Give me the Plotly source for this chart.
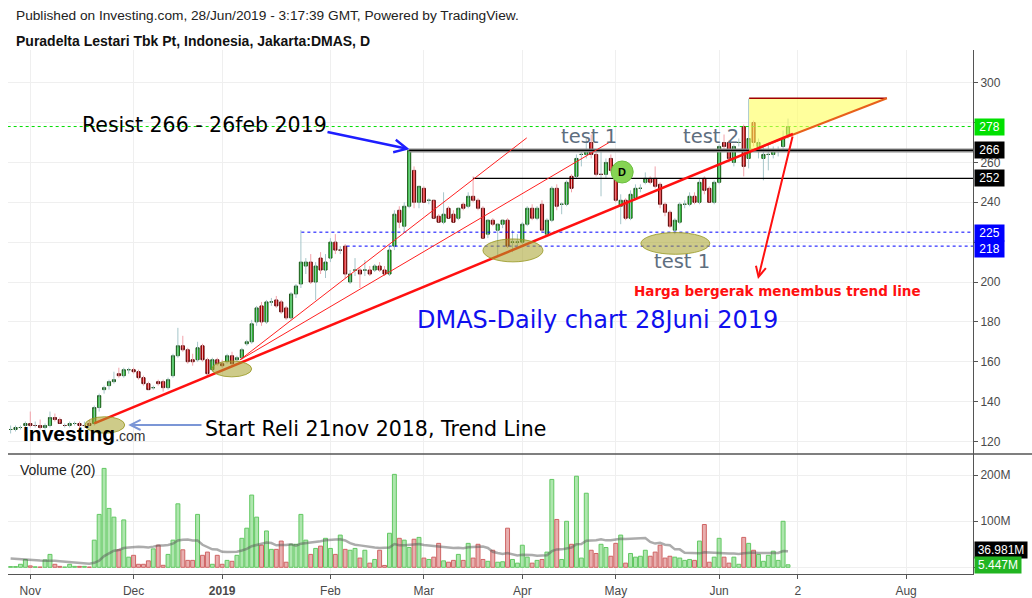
import pandas as pd
import plotly.graph_objects as go

# DMAS daily bars, index 0 = 26 Oct 2018 ... 158 = 28 Jun 2019 (trading days only)
opens = [126, 126, 127, 128, 129, 128, 128, 127, 128, 132, 131, 128, 128, 129, 129, 128, 129, 129, 137, 146,
         148, 150, 154, 153, 156, 156, 155, 152, 149, 147, 150, 150, 147, 153, 163, 168, 166, 161, 161, 168,
         161, 156, 161, 159, 160, 163, 161, 162, 169, 170, 180, 188, 180, 190, 191, 190, 187, 182, 194, 199,
         208, 210, 200, 212, 206, 212, 220, 216, 218, 200, 206, 206, 206, 206, 206, 208, 206, 204, 218, 236,
         228, 238, 256, 240, 247, 241, 241, 233, 230, 237, 234, 232, 239, 238, 243, 241, 237, 224, 231, 226,
         229, 231, 220, 220, 220, 229, 237, 232, 239, 224, 231, 247, 239, 239, 253, 253, 264, 264, 270, 264,
         254, 254, 262, 252, 238, 241, 232, 242, 247, 250, 252, 252, 249, 239, 235, 226, 230, 239, 239, 243,
         240, 252, 247, 240, 250, 270, 270, 260, 270, 278, 262, 280, 268, 262, 264, 264, 266, 268, 274]
highs = [128, 128, 128, 130, 135, 130, 131, 129, 135, 134, 132, 129, 130, 130, 130, 130, 131, 138, 144, 148,
         151, 155, 157, 157, 157, 157, 156, 153, 150, 148, 151, 151, 152, 164, 177, 173, 167, 164, 170, 169,
         162, 162, 162, 161, 164, 165, 163, 167, 171, 181, 188, 190, 191, 192, 193, 191, 188, 195, 199, 226,
         212, 214, 210, 215, 214, 222, 224, 218, 219, 206, 212, 207, 211, 208, 209, 210, 208, 218, 236, 238,
         240, 266, 258, 248, 248, 242, 241, 234, 245, 238, 236, 237, 240, 245, 253, 242, 238, 231, 232, 229,
         231, 232, 226, 224, 230, 238, 239, 238, 241, 232, 248, 249, 240, 251, 254, 264, 266, 272, 274, 266,
         266, 262, 264, 254, 244, 242, 246, 249, 249, 255, 253, 258, 250, 240, 236, 232, 240, 241, 245, 245,
         252, 253, 248, 251, 269, 274, 271, 269, 272, 279, 292, 281, 272, 268, 270, 268, 268, 276, 282]
lows = [124, 125, 126, 127, 127, 127, 126, 126, 127, 130, 129, 127, 127, 128, 127, 127, 128, 128, 135, 144,
        146, 149, 152, 152, 154, 154, 151, 148, 146, 146, 148, 145, 146, 152, 162, 165, 159, 158, 160, 160,
        153, 155, 158, 157, 159, 158, 160, 161, 168, 169, 178, 178, 179, 188, 187, 184, 181, 181, 192, 197,
        204, 199, 191, 204, 202, 210, 214, 214, 202, 199, 203, 197, 203, 203, 205, 205, 203, 203, 216, 227,
        225, 237, 237, 237, 240, 239, 232, 230, 229, 232, 230, 231, 236, 237, 240, 236, 222, 222, 228, 213,
        227, 217, 215, 218, 219, 228, 231, 231, 225, 223, 230, 236, 234, 238, 245, 252, 258, 262, 262, 253,
        243, 252, 255, 240, 229, 231, 231, 241, 245, 249, 249, 247, 237, 233, 227, 224, 229, 237, 238, 239,
        239, 244, 240, 239, 249, 266, 260, 258, 268, 253, 257, 268, 262, 251, 256, 262, 263, 266, 272]
closes = [126, 127, 127, 129, 128, 128, 127, 128, 132, 131, 129, 128, 129, 129, 128, 128, 128, 137, 143, 147,
          150, 151, 153, 156, 156, 155, 152, 149, 146, 147, 149, 147, 151, 163, 168, 166, 160, 160, 167, 161,
          154, 161, 159, 158, 163, 159, 162, 166, 170, 179, 187, 180, 190, 190, 188, 185, 182, 194, 198, 210,
          210, 200, 208, 206, 210, 220, 216, 216, 204, 204, 206, 204, 206, 204, 208, 206, 204, 216, 234, 230,
          238, 266, 240, 248, 240, 241, 232, 230, 234, 232, 230, 237, 237, 243, 241, 237, 222, 231, 229, 229,
          231, 218, 220, 220, 229, 237, 232, 237, 226, 231, 247, 238, 239, 250, 247, 262, 264, 266, 264, 254,
          254, 260, 256, 241, 241, 232, 244, 247, 247, 252, 250, 248, 239, 235, 228, 231, 239, 239, 243, 240,
          250, 246, 240, 250, 268, 268, 262, 268, 270, 258, 272, 270, 270, 264, 264, 266, 266, 272, 278]
# volume in millions of shares
volume = [1.5, 1.5, 6.5, 17, 3, 1, 0.5, 16, 28, 6.5, 2, 0.5, 6.5, 2, 2, 2, 0.5, 59, 115, 215,
          128, 109, 38, 103, 22, 26, 6.5, 6.5, 14, 40, 48, 4.3, 28, 59, 138, 38, 15, 15, 115, 26,
          33, 6.5, 26, 6.5, 15, 13, 26, 63, 85, 157, 109, 48, 79, 39, 39, 57, 11, 50, 50, 115,
          59, 28, 41, 46, 63, 41, 28, 70, 39, 37, 41, 20, 37, 9, 17, 37, 4, 74, 202, 63,
          59, 43, 61, 65, 20, 17, 22, 52, 14, 11, 15, 28, 15, 52, 20, 50, 17, 13, 37, 11,
          12, 85, 17, 9, 48, 22, 9, 15, 17, 33, 191, 104, 17, 100, 50, 198, 20, 161, 37, 30,
          50, 43, 24, 52, 70, 9, 30, 22, 24, 37, 24, 33, 48, 20, 24, 22, 20, 15, 17, 15,
          57, 93, 11, 22, 63, 22, 9, 22, 6.5, 65, 52, 37, 28, 13, 26, 35, 15, 100, 5.447]
# estimated volume level before the visible window (MA starts near 20M)
vol_before = [20] * 19

# month ticks on the bar index scale
tick_idx = [4, 25, 43, 65, 84, 104, 123, 144, 160, 182]
tick_text = ['Nov', 'Dec', '<b>2019</b>', 'Feb', 'Mar', 'Apr', 'May', 'Jun', '2', 'Aug']
price_ticks = [120, 140, 160, 180, 200, 220, 240, 260, 280, 300]
price_text = ['120', '140', '160', '180', '200', '', '240', '260', '', '300']

df = pd.DataFrame({'o': opens, 'h': highs, 'l': lows, 'c': closes, 'v': volume})
df['i'] = range(len(df))
df['up'] = df['c'] >= df['o']
ma = pd.Series(vol_before + volume).rolling(20).mean().iloc[len(vol_before):].values

GREEN_BODY = '#14c814'
RED_BODY = '#d80000'
FONT = 'DejaVu Sans'
AXFONT = 'Liberation Sans, Arial'


def wick_xy(d):
    xs, ys = [], []
    for i, lo, hi in zip(d['i'], d['l'], d['h']):
        xs += [i, i, None]
        ys += [lo, hi, None]
    return xs, ys


fig = go.Figure()

# wicks
for mask, col in [(df['up'], '#a6c6ca'), (~df['up'], '#f2a2aa')]:
    wx, wy = wick_xy(df[mask])
    fig.add_trace(go.Scatter(x=wx, y=wy, mode='lines', line=dict(color=col, width=1),
                             hoverinfo='skip', xaxis='x', yaxis='y'))

# bodies
body_hi = df[['o', 'c']].max(axis=1)
body_lo = df[['o', 'c']].min(axis=1)
fig.add_trace(go.Candlestick(
    x=df['i'], open=df['o'], high=body_hi, low=body_lo, close=df['c'],
    increasing=dict(line=dict(color='#1f5a1f', width=1), fillcolor=GREEN_BODY),
    decreasing=dict(line=dict(color='#5a0a0a', width=1), fillcolor=RED_BODY),
    whiskerwidth=0, xaxis='x', yaxis='y'))

# volume
fig.add_trace(go.Bar(
    x=df['i'], y=df['v'], width=0.8, xaxis='x', yaxis='y2',
    marker=dict(color=['rgba(120,214,120,0.6)' if u else 'rgba(214,110,110,0.55)' for u in df['up']],
                line=dict(color=['#62c862' if u else '#cf6464' for u in df['up']], width=1))))
fig.add_trace(go.Scatter(x=df['i'], y=ma, mode='lines', xaxis='x', yaxis='y2',
                         line=dict(color='rgba(90,90,90,0.5)', width=2.5)))

XEND = 195.6
shapes = [
    # resistance / support levels
    dict(type='line', xref='x', yref='y', x0=-0.6, x1=XEND, y0=278, y1=278,
         line=dict(color='#00dd00', width=1, dash='dot')),
    dict(type='line', xref='x', yref='y', x0=81, x1=XEND, y0=266, y1=266,
         line=dict(color='#8a8a8a', width=4)),
    dict(type='line', xref='x', yref='y', x0=81, x1=XEND, y0=266, y1=266,
         line=dict(color='#000000', width=1.2)),
    dict(type='line', xref='x', yref='y', x0=94, x1=XEND, y0=252, y1=252,
         line=dict(color='#000000', width=1.2)),
    dict(type='line', xref='x', yref='y', x0=59.1, x1=XEND, y0=225, y1=225,
         line=dict(color='#0000ff', width=1, dash='dot')),
    dict(type='line', xref='x', yref='y', x0=68.3, x1=XEND, y0=218, y1=218,
         line=dict(color='#0000ff', width=1, dash='dot')),
    # trend lines
    dict(type='line', xref='x', yref='y', x0=46.6, y0=160.9, x1=104.9, y1=272.3,
         line=dict(color='#ff2020', width=1)),
    dict(type='line', xref='x', yref='y', x0=46.6, y0=160.9, x1=122.2, y1=270.8,
         line=dict(color='#ff2020', width=1)),
    # yellow triangle
    dict(type='path', xref='x', yref='y', path='M150.1,292.2 L178.1,292.2 L150.1,265.4 Z',
         fillcolor='rgba(255,255,90,0.6)', line=dict(width=0)),
    dict(type='line', xref='x', yref='y', x0=150.1, y0=292.2, x1=178.1, y1=292.2,
         line=dict(color='#a00000', width=1.5)),
    dict(type='line', xref='x', yref='y', x0=150.1, y0=265.4, x1=178.1, y1=292.2,
         line=dict(color='#e8601a', width=2)),
    dict(type='line', xref='x', yref='y', x0=17.0, y0=129.1, x1=159.0, y1=274.3,
         line=dict(color='#ff1010', width=2.5)),
    # ellipses
    dict(type='circle', xref='x', yref='y', x0=15.1, x1=23.2, y0=124.1, y1=132.4,
         fillcolor='rgba(165,160,40,0.55)', line=dict(color='rgba(150,150,30,0.8)', width=1)),
    dict(type='circle', xref='x', yref='y', x0=40.9, x1=49.0, y0=152.4, y1=160.4,
         fillcolor='rgba(165,160,40,0.55)', line=dict(color='rgba(150,150,30,0.8)', width=1)),
    dict(type='circle', xref='x', yref='y', x0=96.0, x1=108.2, y0=210.1, y1=221.6,
         fillcolor='rgba(165,160,40,0.55)', line=dict(color='rgba(150,150,30,0.8)', width=1)),
    dict(type='circle', xref='x', yref='y', x0=128.1, x1=142.1, y0=213.9, y1=224.8,
         fillcolor='rgba(165,160,40,0.55)', line=dict(color='rgba(150,150,30,0.8)', width=1)),
    # dividend marker
    dict(type='circle', xref='x', yref='y', xsizemode='pixel', ysizemode='pixel',
         xanchor=124.3, yanchor=255.2, x0=-11, x1=11, y0=-11, y1=11,
         fillcolor='#86d454', line=dict(color='#6cbf40', width=1)),
    # pane separator
    dict(type='line', xref='paper', yref='paper', x0=0, x1=1.065, y0=0.229, y1=0.229,
         line=dict(color='#555555', width=1.5)),
]

annotations = [
    dict(xref='paper', yref='paper', x=0.0062, y=1.065, xanchor='left', yanchor='middle',
         text='Published on Investing.com, 28/Jun/2019 - 3:17:39 GMT, Powered by TradingView.',
         showarrow=False, font=dict(family=AXFONT, size=13.7, color='#222222')),
    dict(xref='paper', yref='paper', x=0.0062, y=1.017, xanchor='left', yanchor='middle',
         text='<b>Puradelta Lestari Tbk Pt, Indonesia, Jakarta:DMAS, D</b>',
         showarrow=False, font=dict(family=AXFONT, size=14, color='#111111')),
    dict(xref='paper', yref='paper', x=0.0104, y=0.1985, xanchor='left', yanchor='middle',
         text='Volume (20)', showarrow=False, font=dict(family=AXFONT, size=14, color='#222222')),
    dict(xref='paper', yref='paper', x=0.0135, y=0.268, xanchor='left', yanchor='middle',
         text="<b>Investing</b><span style='font-size:14px;color:#333'>.com</span>",
         showarrow=False, font=dict(family=AXFONT, size=21, color='#000000')),
    dict(xref='x', yref='y', x=14.1, y=278.6, xanchor='left', yanchor='middle',
         text='Resist 266 - 26feb 2019', showarrow=False, font=dict(family=FONT, size=20.5, color='#000000')),
    dict(xref='x', yref='y', x=82.2, y=181, xanchor='left', yanchor='middle',
         text='DMAS-Daily chart 28Juni 2019', showarrow=False, font=dict(family=FONT, size=24, color='#1010ee')),
    dict(xref='x', yref='y', x=39.1, y=126.3, xanchor='left', yanchor='middle',
         text='Start Reli 21nov 2018, Trend Line', showarrow=False, font=dict(family=FONT, size=20.5, color='#000000')),
    dict(xref='x', yref='y', x=111.4, y=272.8, xanchor='left', yanchor='middle',
         text='test 1', showarrow=False, font=dict(family=FONT, size=19.5, color='#5e6e7e')),
    dict(xref='x', yref='y', x=136.3, y=272.8, xanchor='left', yanchor='middle',
         text='test 2', showarrow=False, font=dict(family=FONT, size=19.5, color='#5e6e7e')),
    dict(xref='x', yref='y', x=130.3, y=210.3, xanchor='left', yanchor='middle',
         text='test 1', showarrow=False, font=dict(family=FONT, size=19.5, color='#5e6e7e')),
    dict(xref='x', yref='y', x=126.3, y=195.5, xanchor='left', yanchor='middle',
         text='<b>Harga bergerak menembus trend line</b>', showarrow=False,
         font=dict(family=FONT, size=13.5, color='#ff1010')),
    dict(xref='x', yref='y', x=124.3, y=255.2, text='<b>D</b>', showarrow=False,
         font=dict(family=AXFONT, size=11, color='#000000')),
    # arrows
    dict(xref='x', yref='y', axref='x', ayref='y', x=81.1, y=266.6, ax=64.1, ay=275.4, text='',
         showarrow=True, arrowhead=5, arrowsize=1, arrowwidth=2.5, arrowcolor='#1e1eff', standoff=0),
    dict(xref='x', yref='y', axref='x', ayref='y', x=151.9, y=201.5, ax=159.0, ay=273.8, text='',
         showarrow=True, arrowhead=5, arrowsize=1, arrowwidth=2, arrowcolor='#ff1010', standoff=0),
    dict(xref='x', yref='y', axref='x', ayref='y', x=23.9, y=128.3, ax=39.1, ay=128.3, text='',
         showarrow=True, arrowhead=5, arrowsize=1, arrowwidth=2, arrowcolor='#7b96d6', standoff=0),
]


def tag(val, text, bg, yref='y', yshift=0, width=27):
    return dict(xref='paper', yref=yref, x=1, y=val, xanchor='left', yanchor='middle',
                text=text, showarrow=False, bgcolor=bg, borderpad=1, width=width, height=14,
                align='center', xshift=1, yshift=yshift,
                font=dict(family=AXFONT, size=12, color='#ffffff'))


annotations += [
    tag(278, '278', '#00e000'),
    tag(266, '266', '#000000'),
    tag(252, '252', '#000000'),
    tag(225, '225', '#0000ff', yshift=-1),
    tag(218, '218', '#0000ff', yshift=-3),
    tag(36.981, '36.981M', '#000000', yref='y2', width=50),
    tag(5.447, '5.447M', '#22b522', yref='y2', width=44),
]

axis_common = dict(showline=True, linecolor='#555555', linewidth=1, ticks='outside', ticklen=4,
                   tickcolor='#555555', gridcolor='#efefef', zeroline=False, automargin=False,
                   tickfont=dict(family=AXFONT, size=12, color='#4a4a4a'))

fig.update_layout(
    width=1032, height=598,
    margin=dict(l=8, r=58.5, t=50, b=24),
    paper_bgcolor='white', plot_bgcolor='white',
    showlegend=False, boxgap=0.15, boxgroupgap=0.25,
    xaxis=dict(range=[-0.53, XEND], tickvals=tick_idx, ticktext=tick_text, anchor='y2',
               ticklabelstandoff=2, rangeslider=dict(visible=False), **axis_common),
    yaxis=dict(domain=[0.229, 1], range=[113.7, 316.4], side='right', anchor='x',
               tickvals=price_ticks, ticktext=price_text, **axis_common),
    yaxis2=dict(domain=[0, 0.229], range=[-14.6, 246.3], side='right', anchor='x',
                tickvals=[0, 100, 200], ticktext=['', '100M', '200M'], **axis_common),
    shapes=shapes,
    annotations=annotations,
)

# page body has a default 8px margin; remove it so the figure sits at the window origin
fig.write_html("out.html", config={'displayModeBar': False},
               post_script="document.body.style.margin='0';")
